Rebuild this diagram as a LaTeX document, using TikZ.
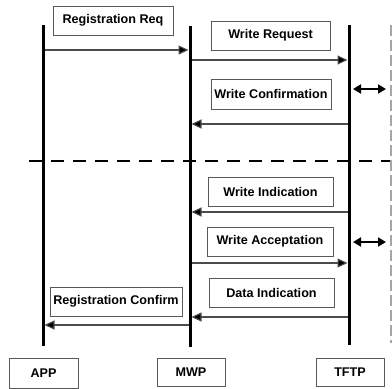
\documentclass[tikz,border=0pt]{standalone}
\usepackage{fontspec}
\setmainfont{Liberation Sans}
\usetikzlibrary{arrows.meta}
\begin{document}
\begin{tikzpicture}[x=1pt,y=-1pt,
  box/.style={draw=black!65,line width=0.9pt,fill=white,inner sep=0pt,
    font=\fontsize{12.6}{14}\selectfont\bfseries},
  life/.style={line width=3pt,black},
  msg/.style={draw=black!70,line width=1.1pt,-{Triangle[length=10pt,width=9pt,fill=black]}},
  dbl/.style={line width=1.8pt,{Triangle[length=8pt,width=9pt]}-{Triangle[length=8pt,width=9pt]}},
  sep/.style={line width=2.6pt,dash pattern=on 13pt off 9pt},
  side/.style={black!35,line width=2pt,dash pattern=on 11pt off 4pt}]
\useasboundingbox[fill=white] (0,0) rectangle (392,389);
% lifeline ends
\coordinate (appT) at (43,25);  \coordinate (appB) at (43,346);
\coordinate (mwpT) at (190,26); \coordinate (mwpB) at (190,347);
\coordinate (tftT) at (349,25); \coordinate (tftB) at (349,345);
\draw[life] (appT) -- (appB);
\draw[life] (mwpT) -- (mwpB);
\draw[life] (tftT) -- (tftB);
% separator and side line
\coordinate (sepL) at (29,161); \coordinate (sepR) at (395,161);
\draw[sep] (sepL) -- (sepR);
\coordinate (sideT) at (391,25); \coordinate (sideB) at (391,343);
\draw[side] (sideT) -- (sideB);
% boxes
\node[box,minimum width=120pt,minimum height=29pt] (rreq) at (113,20.5) {Registration Req};
\node[box,minimum width=119pt,minimum height=29pt] (wreq) at (270.5,35.5) {Write Request};
\node[box,minimum width=120pt,minimum height=30pt] (wconf) at (271,94) {Write Confirmation};
\node[box,minimum width=125pt,minimum height=29pt] (wind) at (270.5,191.5) {Write Indication};
\node[box,minimum width=126pt,minimum height=29pt] (wacc) at (270,241.5) {Write Acceptation};
\node[box,minimum width=125pt,minimum height=29pt] (dind) at (271.5,292.5) {Data Indication};
\node[box,minimum width=132pt,minimum height=29pt] (rconf) at (116,301.5) {Registration Confirm};
\node[box,minimum width=69pt,minimum height=30pt] (app) at (43.5,373) {APP};
\node[box,minimum width=68pt,minimum height=28pt] (mwp) at (191,372) {MWP};
\node[box,minimum width=68pt,minimum height=28pt] (tftp) at (350,372) {TFTP};
% messages
\draw[msg] ([xshift=2pt]appT |- 0,50) -- ([xshift=-1.5pt]mwpT |- 0,50);
\draw[msg] ([xshift=1.5pt]mwpT |- 0,60) -- ([xshift=-1.5pt]tftT |- 0,60);
\draw[msg] ([xshift=-1.5pt]tftT |- 0,124) -- ([xshift=1.5pt]mwpT |- 0,124);
\draw[msg] ([xshift=-1.5pt]tftT |- 0,212) -- ([xshift=1.5pt]mwpT |- 0,212);
\draw[msg] ([xshift=1.5pt]mwpT |- 0,263) -- ([xshift=-1.5pt]tftT |- 0,263);
\draw[msg] ([xshift=-1.5pt]tftT |- 0,317) -- ([xshift=1.5pt]mwpT |- 0,317);
\draw[msg] ([xshift=-1.5pt]mwpT |- 0,325) -- ([xshift=1.5pt]appT |- 0,325);
% double arrows
\coordinate (d1a) at (353,89); \coordinate (d1b) at (386,89);
\draw[dbl] (d1a) -- (d1b);
\coordinate (d2a) at (353,242); \coordinate (d2b) at (386,242);
\draw[dbl] (d2a) -- (d2b);
\end{tikzpicture}
\end{document}
